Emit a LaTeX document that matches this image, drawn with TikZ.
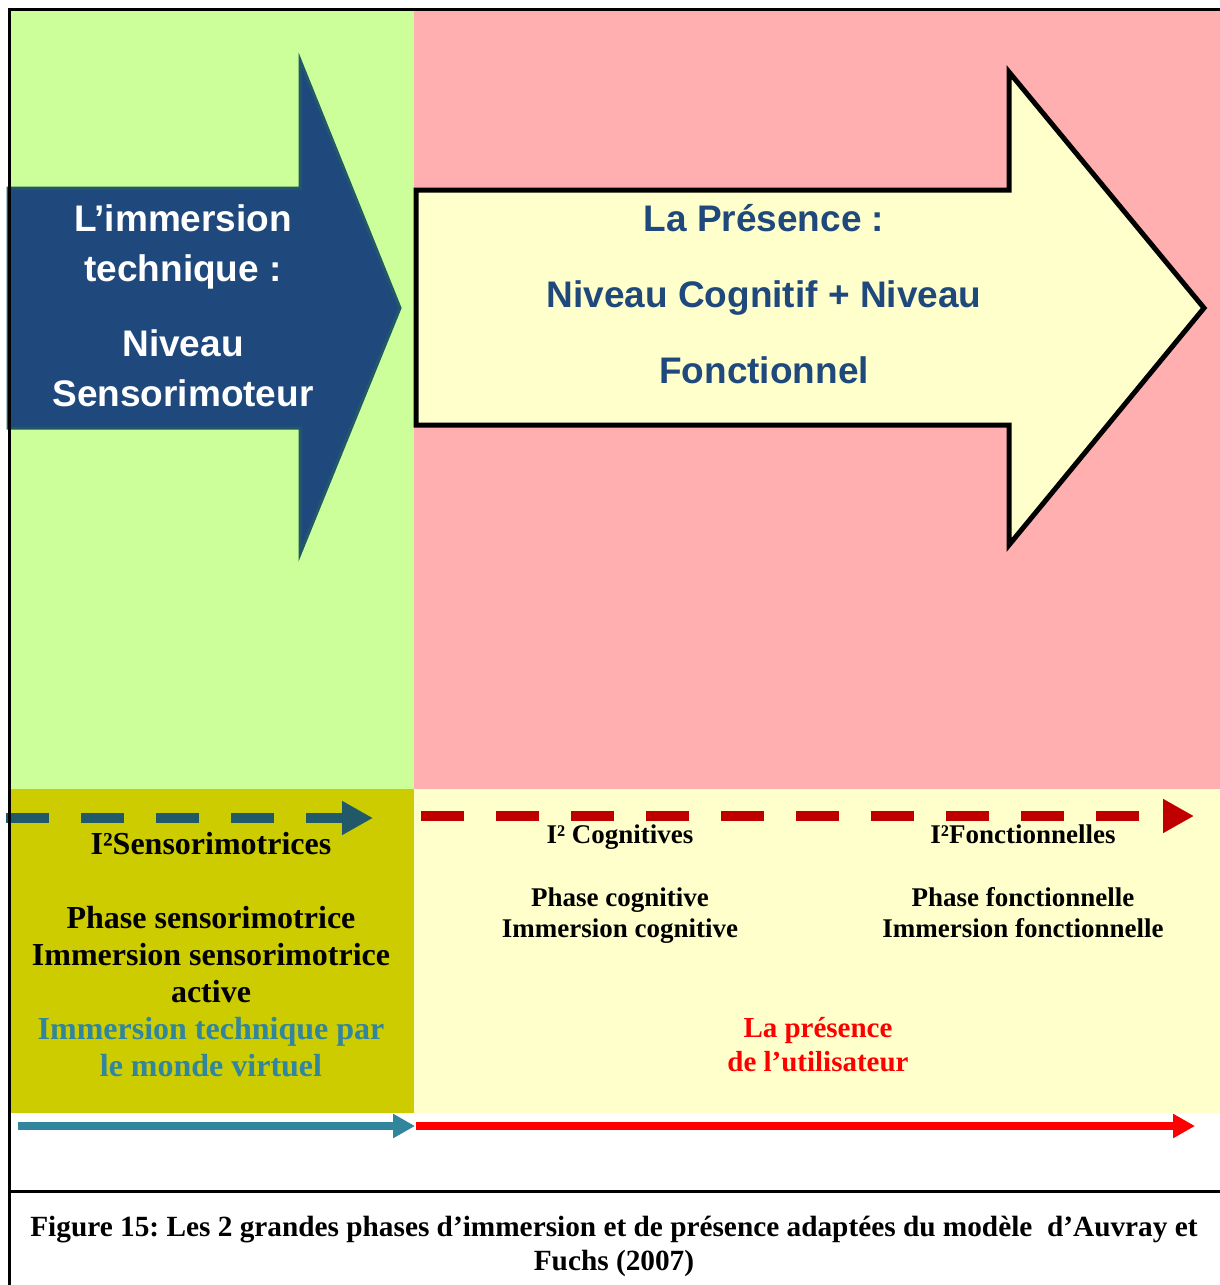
\documentclass[tikz,border=0pt]{standalone}
\usepackage{fontspec}
\setmainfont{Liberation Serif}
\newfontfamily\arialf{Liberation Sans}
\usetikzlibrary{arrows.meta}
\frenchspacing
\definecolor{bggreen}{HTML}{CCFF99}
\definecolor{bgpink}{HTML}{FFAFAF}
\definecolor{bgolive}{HTML}{CCCC00}
\definecolor{bgyel}{HTML}{FFFFCC}
\definecolor{navy}{HTML}{1F497D}
\definecolor{navyedge}{HTML}{215968}
\definecolor{tealtxt}{HTML}{31859C}
\definecolor{darkred}{HTML}{C00000}
\definecolor{brightred}{HTML}{FF0000}
\tikzset{
  bigsans/.style={inner sep=0pt, align=center, font=\arialf\bfseries\fontsize{18.5}{25}\selectfont},
  leftserif/.style={inner sep=0pt, align=center, font=\bfseries\fontsize{16}{18.5}\selectfont},
  rightserif/.style={inner sep=0pt, align=center, font=\bfseries\fontsize{13.5}{15.5}\selectfont},
  redserif/.style={inner sep=0pt, align=center, text=brightred, font=\bfseries\fontsize{14.5}{17}\selectfont},
  capserif/.style={inner sep=0pt, align=center, font=\bfseries\fontsize{14.65}{17}\selectfont},
  dasharrow/.style={line width=5pt, dash pattern=on 21.5pt off 16pt, -{Triangle[length=15.5pt,width=16pt]}},
  solidarrow/.style={line width=4pt, -{Triangle[length=11pt,width=11.5pt]}},
  framel/.style={line width=1.5pt, black}
}
\begin{document}
\begin{tikzpicture}[x=0.5pt,y=-0.5pt]
\useasboundingbox (0,0) rectangle (1220,1285);
\fill[white] (0,0) rectangle (1220,1285);
% backgrounds
\fill[bggreen] (10,10) rectangle (414,789);
\fill[bgpink] (414,10) rectangle (1220,789);
\fill[bgolive] (10,789) rectangle (414,1113);
\fill[bgyel] (414,789) rectangle (1220,1113);
% blue arrow
\draw[fill=navy, draw=navyedge, line width=1.5pt]
  (8,188) -- (300,188) -- (300,60) -- (400,308) -- (300,554) -- (300,428) -- (8,428) -- cycle;
% yellow arrow
\draw[fill=bgyel, draw=black, line width=2.5pt]
  (416,190) -- (1009,190) -- (1009,72) -- (1204,308) -- (1009,545) -- (1009,425) -- (416,425) -- cycle;
% texts in arrows (anchor=base = baseline of last line)
\node[bigsans, text=white, anchor=base] (imm) at (183,281) {L’immersion\\technique :};
\node[bigsans, text=white, anchor=base] (niv) at (183,406) {Niveau\\Sensorimoteur};
\node[bigsans, text=navy, anchor=base, font=\arialf\bfseries\fontsize{18.5}{38}\selectfont] (pres) at (764,383) {La Présence :\\Niveau Cognitif + Niveau\\Fonctionnel};
% dashed arrows
\coordinate (ds) at (6,818);
\coordinate (de) at (373,818);
\draw[dasharrow, navyedge] (ds) -- (de);
\coordinate (rs) at (421,816);
\coordinate (re) at (1194,816);
\draw[dasharrow, darkred] (rs) -- (re);
% bottom texts
\node[leftserif, anchor=base] (i2s) at (211,854) {I²Sensorimotrices};
\node[leftserif, anchor=base] (phs) at (211,1002) {Phase sensorimotrice\\Immersion sensorimotrice\\active};
\node[leftserif, text=tealtxt, anchor=base] (itp) at (211,1076) {Immersion technique par\\le monde virtuel};
\node[rightserif, anchor=base] (i2c) at (620,843) {I² Cognitives};
\node[rightserif, anchor=base] (phc) at (620,937) {Phase cognitive\\Immersion cognitive};
\node[rightserif, anchor=base] (i2f) at (1023,843) {I²Fonctionnelles};
\node[rightserif, anchor=base] (phf) at (1023,937) {Phase fonctionnelle\\Immersion fonctionnelle};
\node[redserif, anchor=base] (lpu) at (818,1071) {La présence\\de l’utilisateur};
% solid arrows
\coordinate (ts) at (18,1126);
\coordinate (te) at (415,1126);
\coordinate (bs) at (416,1126);
\coordinate (be) at (1195,1126);
\draw[solidarrow, tealtxt] (ts) -- (te);
\draw[solidarrow, brightred] (bs) -- (be);
% frame
\draw[framel] (9,9) -- (1220,9);
\draw[framel] (9,8) -- (9,1285);
\draw[framel] (9,1191) -- (1220,1191);
% caption
\node[capserif, anchor=base] (cap) at (614,1270) {Figure 15: Les 2 grandes phases d’immersion et de présence adaptées du modèle~ d’Auvray et\\Fuchs (2007)};
\end{tikzpicture}
\end{document}
